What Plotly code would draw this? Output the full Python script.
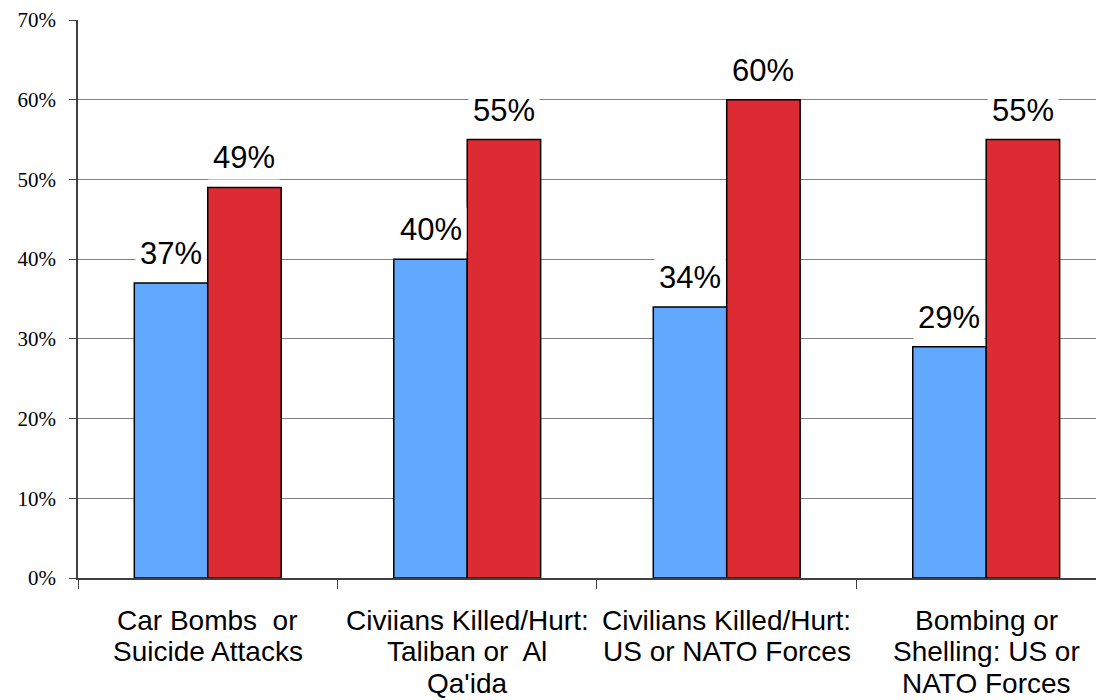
import plotly.graph_objects as go

# Data
categories = ["Car Bombs or Suicide Attacks",
              "Civiians Killed/Hurt: Taliban or Al Qa'ida",
              "Civilians Killed/Hurt: US or NATO Forces",
              "Bombing or Shelling: US or NATO Forces"]
category_lines = [["Car Bombs  or", "Suicide Attacks"],
                  ["Civiians Killed/Hurt:", "Taliban or  Al", "Qa'ida"],
                  ["Civilians Killed/Hurt:", "US or NATO Forces"],
                  ["Bombing or", "Shelling: US or", "NATO Forces"]]
blue_values = [0.37, 0.40, 0.34, 0.29]
red_values = [0.49, 0.55, 0.60, 0.55]
y_ticks = [0, 0.1, 0.2, 0.3, 0.4, 0.5, 0.6, 0.7]

BLUE = "#62A8FF"
RED = "#DC2B33"
BAR_W = 0.283

fig = go.Figure()
fig.add_bar(x=categories, y=blue_values, marker=dict(color=BLUE, line=dict(color="black", width=1.5)),
            showlegend=False)
fig.add_bar(x=categories, y=red_values, marker=dict(color=RED, line=dict(color="black", width=1.5)),
            showlegend=False)

# value labels with white boxes
for i, (b, r) in enumerate(zip(blue_values, red_values)):
    for val, off in ((b, -BAR_W / 2), (r, BAR_W / 2)):
        fig.add_annotation(x=i + off, y=val, xref="x", yref="y", text=f"{val:.0%}",
                           showarrow=False, yanchor="bottom", yshift=7,
                           font=dict(family="Liberation Sans, Arial", size=31, color="black"),
                           bgcolor="white", borderpad=4)

# category labels, one annotation per line
for i, lines in enumerate(category_lines):
    for k, line in enumerate(lines):
        fig.add_annotation(x=i, y=0, xref="x", yref="paper", text=line, showarrow=False,
                           yanchor="middle", yshift=-(42 + k * 31.5),
                           font=dict(family="Liberation Sans, Arial", size=28, color="black"))

# page body has an 8px margin, so the figure is sized to fit from (8, 8)
fig.update_layout(
    width=1096, height=692,
    margin=dict(l=70, r=0, t=12, b=122),
    paper_bgcolor="white", plot_bgcolor="white",
    barmode="group", bargap=0.434, bargroupgap=0,
    xaxis=dict(range=[-0.5, 3.454], showticklabels=False, tickson="boundaries",
               ticks="outside", ticklen=9, tickcolor="#404040", showline=True,
               linecolor="#404040", linewidth=1.5, showgrid=False),
    yaxis=dict(range=[0, 0.7], tickvals=y_ticks, tickformat=".0%", ticks="outside",
               ticklen=7, tickcolor="#404040", showline=True, linecolor="#404040",
               linewidth=1.5, gridcolor="#808080", gridwidth=1, zeroline=False,
               ticklabelstandoff=9, ticklabeloverflow="allow",
               tickfont=dict(family="Liberation Serif, Times New Roman", size=21, color="black")),
)

fig.write_html("out.html")
